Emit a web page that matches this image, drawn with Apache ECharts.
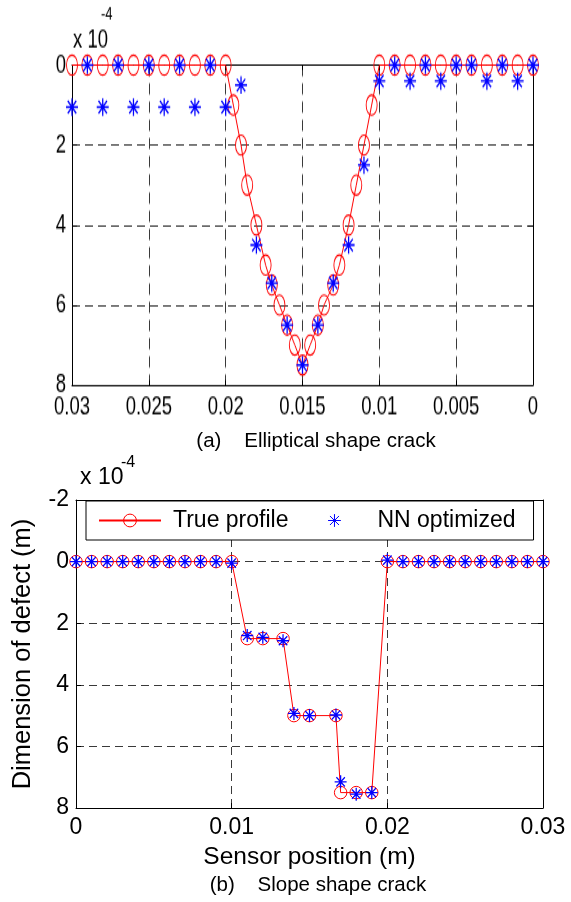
<!DOCTYPE html>
<html><head><meta charset="utf-8">
<script src="https://cdn.jsdelivr.net/npm/echarts@6/dist/echarts.min.js"></script>
<style>
html,body{margin:0;padding:0;background:#fff;width:571px;height:902px;overflow:hidden;}
#bottom{position:absolute;left:0;top:0;width:571px;height:902px;}
#top{position:absolute;left:0;top:0;width:571px;height:310px;transform:scaleY(1.4);transform-origin:0 0;}
</style></head><body>
<div id="bottom"></div><div id="top"></div>
<script>
// ---------- data: (a) Elliptical shape crack ----------
const xTrueA = [0.030,0.029,0.028,0.027,0.026,0.025,0.024,0.023,0.022,0.021,0.020,
  0.0195,0.019,0.0186,0.018,0.0174,0.017,0.0165,0.016,0.0155,0.015,0.0145,0.014,0.0136,0.013,0.0126,0.012,0.0115,0.011,0.0105,
  0.010,0.009,0.008,0.007,0.006,0.005,0.004,0.003,0.002,0.001,0.000];
const yTrueA = [0,0,0,0,0,0,0,0,0,0,0,
  1,2,3,4,5,5.5,6,6.5,7,7.5,7,6.5,6,5.5,5,4,3,2,1,
  0,0,0,0,0,0,0,0,0,0,0];
const xNNA = [0.030,0.029,0.028,0.027,0.026,0.025,0.024,0.023,0.022,0.021,0.020,0.019,0.018,0.017,0.016,0.015,
  0.014,0.013,0.012,0.011,0.010,0.009,0.008,0.007,0.006,0.005,0.004,0.003,0.002,0.001,0.000];
const yNNA = [1.05,0,1.05,0,1.05,0,1.05,0,1.05,0,1.05,0.5,4.5,5.45,6.5,7.5,
  6.5,5.45,4.5,2.5,0.4,0,0.4,0,0.4,0,0,0.4,0,0.4,0];
const xTicksA = ['0','0.005','0.01','0.015','0.02','0.025','0.03'];
const yTicksA = ['0','2','4','6','8'];

// ---------- data: (b) Slope shape crack ----------
const xB = [0.000,0.001,0.002,0.003,0.004,0.005,0.006,0.007,0.008,0.009,0.010,
  0.011,0.012,0.0133,0.014,0.015,0.0167,0.017,0.018,0.019,
  0.020,0.021,0.022,0.023,0.024,0.025,0.026,0.027,0.028,0.029,0.030];
const yTrueB = [0,0,0,0,0,0,0,0,0,0,0,
  2.5,2.5,2.5,5,5,5,7.5,7.5,7.5,
  0,0,0,0,0,0,0,0,0,0,0];
const yNNB = [0,0,0,0,0,0,0,0,0,0,0.05,
  2.4,2.46,2.57,4.93,5.0,4.98,7.15,7.55,7.5,
  -0.05,0,0,0,0,0,0,0,0,0,0];
const xTicksB = ['0','0.01','0.02','0.03'];
const yTicksB = ['-2','0','2','4','6','8'];

const seriesNames = ['True profile','NN optimized'];
const FONT = "'Liberation Sans', Arial, Helvetica, sans-serif";
const STAR = 'path://M0,-10L0,10M-10,0L10,0M-7.07,-7.07L7.07,7.07M-7.07,7.07L7.07,-7.07';
const RED = '#ff0000', BLUE = '#0000ff';

function pairs(xs, ys){ return xs.map((x,i)=>[x, ys[i]]); }
function pick(arr, step, min){ return v => { const i = Math.round((v - min)/step); return arr[i] !== undefined ? arr[i] : ''; }; }

function axisSet(o){
  const base = {
    type:'value', min:o.min, max:o.max, interval:o.interval, inverse:o.inverse, position:o.position,
    axisLine:{show:true, onZero:false, lineStyle:{color:'#000', width:1}},
    axisTick:{show:true, inside:true, length:o.tick, lineStyle:{color:'#000', width:1}},
    axisLabel:{show:o.labels, color:'#000', fontFamily:FONT, fontSize:o.fs, margin:o.margin, formatter:o.fmt},
    splitLine:{show:o.split, showMinLine:false, showMaxLine:false, lineStyle:{color:'#3a3a3a', width:1, type:o.dash}}
  };
  return Object.assign(base, o.extra || {});
}

// ---------- top chart (a) ----------
const topChart = echarts.init(document.getElementById('top'), null, {renderer:'canvas'});
topChart.setOption({
  animation:false,
  grid:{left:72, right:38, top:46.5, bottom:35, show:false},
  xAxis:[
    axisSet({min:0,max:0.03,interval:0.005,inverse:true,position:'bottom',tick:3.5,labels:true,fs:18.5,margin:6,
      fmt:pick(xTicksA,0.005,0),split:true,dash:[8,5]}),
    axisSet({min:0,max:0.03,interval:0.005,inverse:true,position:'top',tick:3.5,labels:false,split:false})
  ],
  yAxis:[
    axisSet({min:0,max:8,interval:2,inverse:true,position:'left',tick:5,labels:true,fs:18.5,margin:6,
      fmt:pick(yTicksA,2,0),split:true,dash:[8,5]}),
    axisSet({min:0,max:8,interval:2,inverse:true,position:'right',tick:5,labels:false,split:false})
  ],
  graphic:[
    {type:'text', left:73, top:19, style:{text:'x 10', font:'18.5px ' + FONT, fill:'#000'}},
    {type:'text', left:101, top:4, style:{text:'-4', font:'13px ' + FONT, fill:'#000'}}
  ],
  series:[
    {type:'line', name:seriesNames[0], data:pairs(xTrueA,yTrueA), symbol:'circle', symbolSize:[11,14.3],
      itemStyle:{color:'rgba(0,0,0,0)', borderColor:RED, borderWidth:1}, lineStyle:{color:RED, width:1}, z:3},
    {type:'line', name:seriesNames[1], data:pairs(xNNA,yNNA), symbol:STAR, symbolSize:[12,12.5],
      itemStyle:{color:'rgba(0,0,0,0)', borderColor:BLUE, borderWidth:1.3}, lineStyle:{opacity:0}, z:4}
  ]
});

// ---------- bottom chart (b) + captions ----------
const botChart = echarts.init(document.getElementById('bottom'), null, {renderer:'canvas'});
botChart.setOption({
  animation:false,
  grid:{left:76, right:28, top:500, bottom:94, show:false},
  legend:{
    data:seriesNames, left:86, top:501, orient:'horizontal',
    itemWidth:62, itemHeight:16, itemGap:14,
    padding:[8,18,8,12], borderColor:'#000', borderWidth:1, backgroundColor:'#fff',
    textStyle:{fontFamily:FONT, fontSize:23, color:'#000', padding:[0,0,0,7]},
    itemStyle:{borderWidth:1}
  },
  xAxis:[
    axisSet({min:0,max:0.03,interval:0.01,inverse:false,position:'bottom',tick:5,labels:true,fs:23,margin:8,
      fmt:pick(xTicksB,0.01,0),split:true,dash:[8,5],
      extra:{name:'Sensor position (m)', nameLocation:'middle', nameGap:37,
        nameTextStyle:{fontFamily:FONT, fontSize:24.5, color:'#000'}}}),
    axisSet({min:0,max:0.03,interval:0.01,inverse:false,position:'top',tick:5,labels:false,split:false})
  ],
  yAxis:[
    axisSet({min:-2,max:8,interval:2,inverse:true,position:'left',tick:5,labels:true,fs:23,margin:7,
      fmt:pick(yTicksB,2,-2),split:true,dash:[8,5],
      extra:{name:'Dimension of defect (m)', nameLocation:'middle', nameGap:40, nameRotate:90,
        nameTextStyle:{fontFamily:FONT, fontSize:25.5, color:'#000'}}}),
    axisSet({min:-2,max:8,interval:2,inverse:true,position:'right',tick:5,labels:false,split:false})
  ],
  graphic:[
    {type:'text', x:316, y:441, style:{text:'(a)    Elliptical shape crack', font:'20.5px ' + FONT, fill:'#000', align:'center', verticalAlign:'middle'}},
    {type:'text', x:318, y:885, style:{text:'(b)    Slope shape crack', font:'20.5px ' + FONT, fill:'#000', align:'center', verticalAlign:'middle'}},
    {type:'text', x:80, y:478, style:{text:'x 10', font:'23px ' + FONT, fill:'#000', verticalAlign:'middle'}},
    {type:'text', x:121, y:463, style:{text:'-4', font:'16px ' + FONT, fill:'#000', verticalAlign:'middle'}}
  ],
  series:[
    {type:'line', name:seriesNames[0], data:pairs(xB,yTrueB), symbol:'circle', symbolSize:12.5,
      itemStyle:{color:'rgba(0,0,0,0)', borderColor:RED, borderWidth:1}, lineStyle:{color:RED, width:1}, z:3},
    {type:'line', name:seriesNames[1], data:pairs(xB,yNNB), symbol:STAR, symbolSize:[12,13],
      itemStyle:{color:'rgba(0,0,0,0)', borderColor:BLUE, borderWidth:1.3}, lineStyle:{opacity:0}, z:4}
  ]
});
</script>
</body></html>
